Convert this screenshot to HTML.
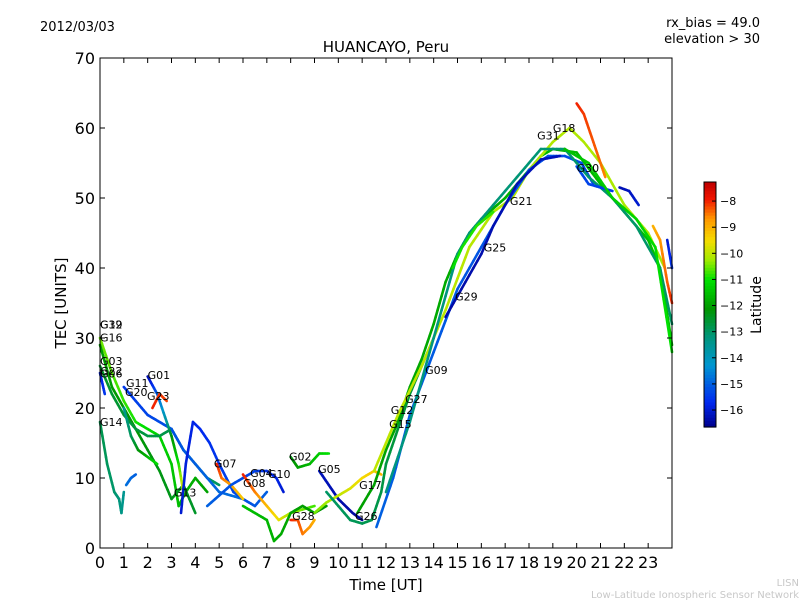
<!DOCTYPE html>
<html><head><meta charset="utf-8"><style>
body{margin:0;background:#fff;}
svg text{font-family:"DejaVu Sans","Liberation Sans",sans-serif;}
</style></head><body>
<svg id="chart" width="800" height="600" xmlns="http://www.w3.org/2000/svg">
<rect width="800" height="600" fill="#fff"/>
<text x="40" y="31" font-size="13">2012/03/03</text>
<text x="760" y="27" font-size="13" text-anchor="end">rx_bias = 49.0</text>
<text x="760" y="43" font-size="13" text-anchor="end">elevation &gt; 30</text>
<text x="386" y="52" font-size="15" text-anchor="middle">HUANCAYO, Peru</text>
<text x="386" y="590" font-size="15" text-anchor="middle">Time [UT]</text>
<text x="66" y="303" font-size="15" text-anchor="middle" transform="rotate(-90 66 303)">TEC [UNITS]</text>
<text x="799" y="586" font-size="10" fill="#c8c8c8" text-anchor="end">LISN</text>
<text x="799" y="598" font-size="10" fill="#c8c8c8" text-anchor="end">Low-Latitude Ionospheric Sensor Network</text>
<g id="plot"></g>
<g id="cbar"></g>
</svg>
<script>
const xTicks=[0,1,2,3,4,5,6,7,8,9,10,11,12,13,14,15,16,17,18,19,20,21,22,23];
const yTicks=[0,10,20,30,40,50,60,70];
const cbTicks=[-8,-9,-10,-11,-12,-13,-14,-15,-16];
const trackNames=["G19","G16","G14a","G14b","G06","G03","G11","G01","G23","GHump","G07","G04","G08","G02","G05","G28","GLow","G17","G26","T1","T2","T3","T4","G25","G18","T7","G30","G22b","GEndA","GEndB","GDesc","G20"];
const trackTimes=[
[0,0.5,1,1.5,2,2.5,3,3.3,3.6,4,4.5],
[0,0.5,1,1.5,2,2.5,3,3.5,4],
[0,0.3,0.6,0.8,0.9,1],
[1.1,1.3,1.5],
[0,0.1,0.2],
[0,0.5,1,1.5,2,2.5,3,3.5,4,4.5,5],
[1,1.5,2,2.5,3,3.5,4,4.5,5,6],
[2,2.4,2.8,3,3.3,3.5],
[2.2,2.5,2.8],
[3.4,3.6,3.9,4.2,4.6,5,5.3,5.6,6,6.5,7],
[4.9,5.1,5.5,6],
[4.5,5.5,6.5,7,7.4,7.7],
[6,6.5,7,7.5,8,9],
[8,8.3,8.8,9.2,9.6],
[9.2,9.6,10,10.3,10.6,11],
[8,8.3,8.5,8.8,9],
[6,6.5,7,7.3,7.6,8,8.5,9,9.5],
[9,9.5,10,10.5,11,11.5,11.8],
[9.5,10,10.5,11,11.4,11.8,12,12.5,13,13.5,14],
[10.8,11.5,12,12.5,13,13.5,14,14.5,15,15.5,16,17,18,18.5,19,20,21,22,23,23.5,24],
[11.5,12.5,13.5,14.5,15.5,16.5,17.3,18,19,19.7,20.3,21,22,23,23.7],
[11.6,12.3,13,14,15,16,17,18,18.8,19.5,20.2,20.7],
[12,13,14,15,15.5,16.5,17.5,18.5,19.5,20.5,21.5,22.5,23.5,24],
[14.5,15,16,16.5,17.5,18.5,19.3],
[20,20.3,20.7,21,21.2],
[14.8,15.2,15.8,16.5],
[20,20.5,21,21.5],
[21.8,22.2,22.6],
[23.2,23.5,23.8,24],
[23.8,24],
[19.5,20.5,21.5,22.5,23.3,24],
[1,1.3,1.6,2,2.4]
];
const trackTEC=[
[30,25,21,18,17,16,12,6,8,10,8],
[29,23,20,17,14,11,7,9,5],
[18,12,8,7,5,8],
[9,10,10.5],
[25,23.5,22],
[26,22,19,17,16,16,17,14,12,10,9],
[23,21,19,18,17,14,12,10,8,7],
[24.5,22,18,16,12,8],
[20,22,21],
[5,12,18,17,15,12,10,8,7,6,8],
[12,10,9,7],
[6,9,11,11,10,8],
[10.5,8,6,4,5,6],
[13,11.5,12,13.5,13.5],
[11,9,7,6,5,4],
[4,4,2,3,4],
[6,5,4,1,2,5,6,5,6],
[5,6.5,7.5,8.5,10,11,10.5],
[8,6,4,3.5,4,8,12,17,22,26,30],
[5,9,14,18,23,27,32,38,42,45,47,50,54,56,57,56.5,52,48,44,40,29],
[11,19,26,34,43,48,50,54,58,60,58,55,49,45,40],
[3,10,19,28,37,43,49,54,56,56,55,52],
[8,18,30,42,45,49,53,57,57,53,50,46,40,32],
[33,36,42,46,52,55.5,56],
[63.5,62,58,55,53],
[40,43,46,48],
[54.5,52,51.5,51],
[51.5,51,49],
[46,44,38,35],
[44,40],
[57,55,50,47,43,28],
[20,16,14,13,12]
];
const trackLat=[
[-10.5,-12],[-12,-12.5],[-12.8,-13.5],[-14.8,-15],[-16,-15.5],[-12.5,-13],[-15.5,-14.8],[-16.3,-9.5],[-8,-8.2],[-16,-15],
[-8,-9.3],[-15,-16],[-8,-10.8],[-12.3,-11],[-16.2,-16.5],[-8,-9],[-11.5,-12.2],[-10.5,-9],[-13,-12.5],
[-12,-11.5],[-10,-10.2],[-15,-15.3],[-13.3,-13],[-16.4,-16.2],[-8,-8.6],[-11,-10.8],[-15.3,-15.5],[-16.3,-16],[-9,-8],[-16,-15.5],[-11.5,-11],[-13.5,-11]
];
const labelNames=["G32","G19","G16","G03","G22","G06","G14","G11","G20","G01","G23","G13","G07","G04","G10","G08","G02","G05","G28","G17","G26","G15","G12","G27","G09","G29","G25","G21","G31","G18","G30"];
const labelTimes=[0,0,0,0,0,0,0,1.09,1.05,2.0,1.97,3.1,4.78,6.3,7.05,6.0,7.93,9.15,8.06,10.87,10.7,12.13,12.2,12.8,13.64,14.9,16.1,17.2,18.34,19.0,20.0];
const labelTEC=[31.9,31.9,30.1,26.7,25.3,24.9,18,23.6,22.3,24.7,21.7,7.9,12.1,10.7,10.6,9.3,13.1,11.3,4.6,9,4.6,17.7,19.7,21.3,25.4,35.9,42.9,49.6,58.9,60,54.3];

const NS="http://www.w3.org/2000/svg";
const X0=100,X1=672,Y0=548,Y1=58;
const xs=t=>X0+t*(X1-X0)/24;
const ys=v=>Y0-v*(Y0-Y1)/70;
const LMIN=-16.65,LMAX=-7.27;
const CSTOPS=[[0,[0,0,140]],[0.1,[0,40,240]],[0.25,[0,150,210]],[0.37,[0,150,120]],[0.48,[0,150,0]],[0.6,[0,225,0]],[0.68,[160,235,0]],[0.76,[245,220,0]],[0.85,[255,150,0]],[0.93,[240,20,0]],[1,[190,0,0]]];
function cmap(f){f=Math.max(0,Math.min(1,f));
 for(let i=0;i<CSTOPS.length-1;i++){const a=CSTOPS[i],b=CSTOPS[i+1];
  if(f<=b[0]){const u=(f-a[0])/(b[0]-a[0]);const c=a[1].map((v,k)=>Math.round(v+(b[1][k]-v)*u));return `rgb(${c[0]},${c[1]},${c[2]})`;}}
 return 'rgb(190,0,0)';}
const latColor=l=>cmap((l-LMIN)/(LMAX-LMIN));
function mk(tag,attrs,parent){const e=document.createElementNS(NS,tag);for(const k in attrs)e.setAttribute(k,attrs[k]);parent.appendChild(e);return e;}
const plot=document.getElementById('plot');
for(let i=0;i<trackTimes.length;i++){
 const g=mk('g',{},plot);
 
 
 const T=trackTimes[i],V=trackTEC[i],L=trackLat[i],n=T.length;
 for(let j=0;j<n-1;j++){
  const steps=6;
  for(let s=0;s<steps;s++){
   const a=s/steps,b=(s+1)/steps;
   const ta=T[j]+(T[j+1]-T[j])*a,tb=T[j]+(T[j+1]-T[j])*b;
   const va=V[j]+(V[j+1]-V[j])*a,vb=V[j]+(V[j+1]-V[j])*b;
   const fr=(j+a)/(n-1);
   const lat=L[0]+(L[1]-L[0])*fr;
   const seg=mk('line',{x1:xs(ta),y1:ys(va),x2:xs(tb),y2:ys(vb),stroke:latColor(lat),'stroke-width':2.6,'stroke-linecap':'round'},g);
   
   
  }
 }
}
for(let i=0;i<labelNames.length;i++){
 const t=mk('text',{x:xs(labelTimes[i]),y:ys(labelTEC[i])+4,'font-size':11},plot);
 t.textContent=labelNames[i];
 
 
}
const fr=mk('rect',{x:X0,y:Y1,width:X1-X0,height:Y0-Y1,fill:'none',stroke:'#000','stroke-width':1},plot);


for(const t of xTicks){
 const x=xs(t);
 mk('line',{x1:x,y1:Y0,x2:x,y2:Y0-5,stroke:'#000'},plot);
 mk('line',{x1:x,y1:Y1,x2:x,y2:Y1+5,stroke:'#000'},plot);
 const lb=mk('text',{x:x,y:Y0+20,'font-size':16,'text-anchor':'middle'},plot);
 lb.textContent=t;
 
 
}
for(const v of yTicks){
 const y=ys(v);
 mk('line',{x1:X0,y1:y,x2:X0+5,y2:y,stroke:'#000'},plot);
 mk('line',{x1:X1,y1:y,x2:X1-5,y2:y,stroke:'#000'},plot);
 const lb=mk('text',{x:X0-5,y:y+6,'font-size':16,'text-anchor':'end'},plot);
 lb.textContent=v;
 
 
}
const cb=document.getElementById('cbar');
const CX=704,CW=12,CT=182,CB=427;
const N=80;
for(let i=0;i<N;i++){
 const y=CT+(CB-CT)*i/N;
 const lat=LMAX-(LMAX-LMIN)*(i+0.5)/N;
 mk('rect',{x:CX,y:y,width:CW,height:(CB-CT)/N+0.6,fill:latColor(lat)},cb);
}
mk('rect',{x:CX,y:CT,width:CW,height:CB-CT,fill:'none',stroke:'#000'},cb);
const cy=l=>CT+(LMAX-l)*(CB-CT)/(LMAX-LMIN);
for(const l of cbTicks){
 const y=cy(l);
 mk('line',{x1:CX+CW-4,y1:y,x2:CX+CW,y2:y,stroke:'#000'},cb);
 const lb=mk('text',{x:CX+CW+4,y:y+4,'font-size':11},cb);
 lb.textContent='\u2212'+Math.abs(l);
 
 
}
const ct=mk('text',{x:761,y:305,'font-size':14,'text-anchor':'middle',transform:'rotate(-90 761 305)'},cb);
ct.textContent='Latitude';


</script>
</body></html>
